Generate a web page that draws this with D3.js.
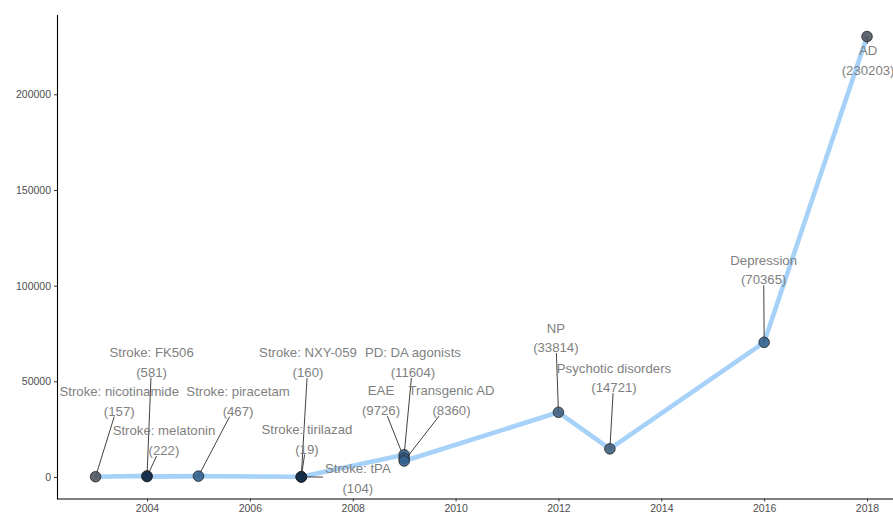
<!DOCTYPE html>
<html>
<head>
<meta charset="utf-8">
<script src="https://cdn.jsdelivr.net/npm/d3@7"></script>
<style>
  body { margin: 0; background: #fff; }
  svg { display: block; font-family: "Liberation Sans", Arial, sans-serif; }
</style>
</head>
<body>
<svg id="chart" width="893" height="516"></svg>
<script>
// values
const labels = [
  "Stroke: nicotinamide", "Stroke: FK506", "Stroke: melatonin", "Stroke: piracetam",
  "Stroke: NXY-059", "Stroke: tirilazad", "Stroke: tPA",
  "PD: DA agonists", "EAE", "Transgenic AD",
  "NP", "Psychotic disorders", "Depression", "AD"
]
const years = [2003, 2004, 2004, 2005, 2007, 2007, 2007, 2009, 2009, 2009, 2012, 2013, 2016, 2018]
const counts = [157, 581, 222, 467, 160, 19, 104, 11604, 9726, 8360, 33814, 14721, 70365, 230203]
// where the repelled labels ended up, in data units (year, count)
const labelYears = [2003.46, 2004.09, 2004.33, 2005.77, 2007.13, 2007.11, 2008.10,
  2009.17, 2008.55, 2009.92, 2011.95, 2013.08, 2015.99, 2018.02]
const labelCounts = [39950, 60300, 19320, 39950, 60050, 20100, -260,
  60050, 40200, 40200, 73100, 52200, 108600, 218000]
const shades = ["gray", "dark", "dark", "mid", "dark", "dark", "dark",
  "mid", "mid", "mid", "slate", "slate", "mid", "gray"]

const xTicks = [2004, 2006, 2008, 2010, 2012, 2014, 2016, 2018]
const yTicks = [0, 50000, 100000, 150000, 200000]

const data = labels.map((d, i) => ({
  label: d, year: years[i], n: counts[i],
  lx: labelYears[i], ly: labelCounts[i], shade: shades[i]
}))

const svg = d3.select("#chart")

const x = d3.scaleLinear().domain([2002.25, 2018.75]).range([57, 905.6])
const y = d3.scaleLinear().domain([-11490, 241712]).range([499, 14.5])

const color = d3.scaleOrdinal()
  .domain(["gray", "dark", "mid", "slate"])
  .range(["#4f5660", "#15304b", "#34618e", "#43607c"])

// axes
const xAxis = d3.axisBottom(x).tickValues(xTicks).tickFormat(d3.format("d"))
  .tickSize(3).tickSizeOuter(0).tickPadding(3)
const yAxis = d3.axisLeft(y).tickValues(yTicks).tickFormat(d3.format("d"))
  .tickSize(3).tickSizeOuter(0).tickPadding(3)

const gx = svg.append("g")
  .attr("transform", `translate(0, ${y.range()[0] - 0.5})`)
  .call(xAxis)
const gy = svg.append("g")
  .attr("transform", `translate(${x.range()[0]}, 0)`)
  .call(yAxis)

for (const g of [gx, gy]) {
  g.select(".domain").attr("stroke", "#000").attr("stroke-width", 1.1)
  g.selectAll(".tick line").attr("stroke", "#333")
  g.selectAll(".tick text")
    .attr("fill", "#4d4d4d")
    .attr("font-size", "10.5px")
    .attr("font-family", "Liberation Sans, Arial, sans-serif")
}

// the trend line
const line = d3.line().x(d => x(d.year)).y(d => y(d.n))
const sorted = data.slice().sort((a, b) => d3.ascending(a.year, b.year))
svg.append("path")
  .datum(sorted)
  .attr("d", line)
  .attr("fill", "none")
  .attr("stroke", "#a6d1f8")
  .attr("stroke-width", 4.6)
  .attr("stroke-linejoin", "round")

// label text first, so the boxes can be measured
const textG = svg.append("g")
const texts = textG.selectAll("text")
  .data(data)
  .join("text")
  .attr("x", d => x(d.lx))
  .attr("y", d => y(d.ly))
  .attr("text-anchor", "middle")
  .attr("font-size", "13.2px")
  .attr("fill", "#7f7f7f")
texts.append("tspan")
  .attr("x", d => x(d.lx))
  .attr("dy", "-0.35em")
  .text(d => d.label)
texts.append("tspan")
  .attr("x", d => x(d.lx))
  .attr("dy", "1.5em")
  .text(d => `(${d.n})`)

texts.each(function (d) {
  d.halfW = this.getBBox().width / 2 + 2
  d.halfH = 16
})

// segments from point to label box edge
const segs = data.map(d => {
  const cx = x(d.lx), cy = y(d.ly)
  const px = x(d.year), py = y(d.n)
  const dx = px - cx, dy = py - cy
  const t = Math.min(
    dx === 0 ? Infinity : d.halfW / Math.abs(dx),
    dy === 0 ? Infinity : d.halfH / Math.abs(dy)
  )
  if (t >= 1) return null
  const ex = cx + dx * t, ey = cy + dy * t
  if (Math.hypot(px - ex, py - ey) < 7) return null
  return { x1: ex, y1: ey, x2: px, y2: py }
}).filter(d => d)

svg.insert("g", () => textG.node())
  .selectAll("line")
  .data(segs)
  .join("line")
  .attr("x1", d => d.x1).attr("y1", d => d.y1)
  .attr("x2", d => d.x2).attr("y2", d => d.y2)
  .attr("stroke", "#111")
  .attr("stroke-width", 0.8)

// points
svg.insert("g", () => textG.node())
  .selectAll("circle")
  .data(data)
  .join("circle")
  .attr("cx", d => x(d.year))
  .attr("cy", d => y(d.n))
  .attr("r", 5.3)
  .attr("fill", d => color(d.shade))
  .attr("fill-opacity", 0.9)
  .attr("stroke", "#222")
  .attr("stroke-width", 0.8)
</script>
</body>
</html>
